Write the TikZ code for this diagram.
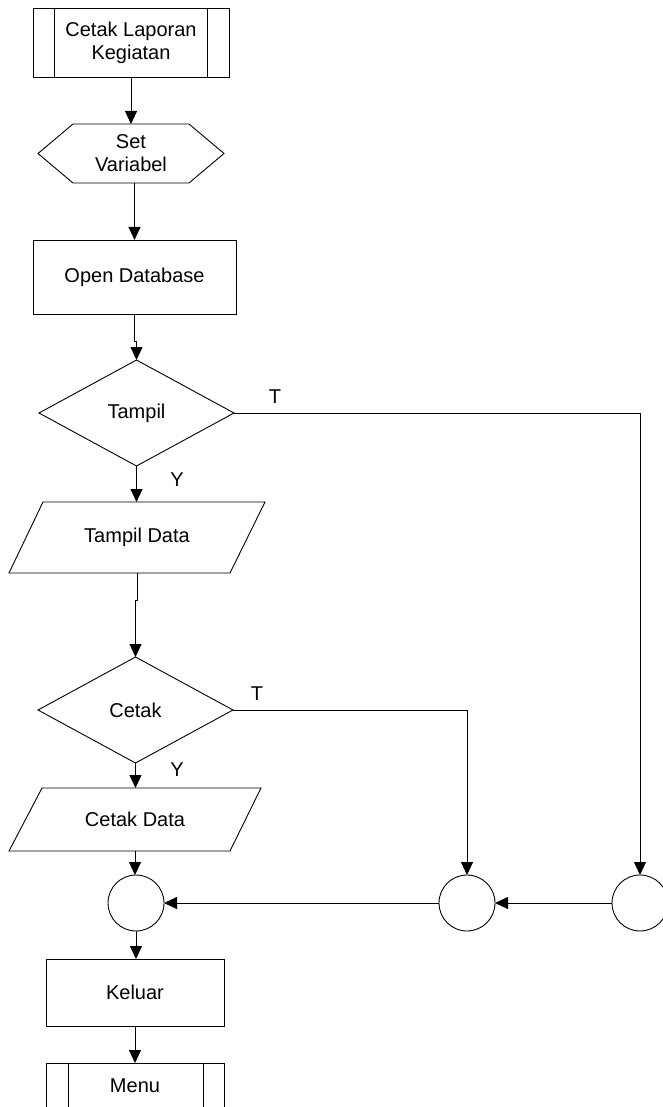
\documentclass[tikz,border=0pt]{standalone}
\usepackage{fontspec}
\setmainfont{Liberation Sans}
\usetikzlibrary{arrows.meta,calc}
\begin{document}
\begin{tikzpicture}[x=1pt,y=-1pt,
  line width=0.9pt,
  every node/.style={font=\fontsize{20}{23}\selectfont, inner sep=0pt, outer sep=0pt},
  shapebox/.style 2 args={rectangle, minimum width=#1, minimum height=#2, align=center},
  arr/.style={-{Triangle[length=13pt,width=12pt]}},
  lbl/.style={anchor=center}
]
\useasboundingbox (0,0) rectangle (663,1107);
\clip (0,0) rectangle (663,1107);

% start: predefined process
\node[shapebox={196}{69}, draw] (start) at (131,42.5) {Cetak Laporan\\Kegiatan};
\draw ([xshift=21pt]start.north west) -- ([xshift=21pt]start.south west);
\draw ([xshift=-22pt]start.north east) -- ([xshift=-22pt]start.south east);

% hexagon
\node[shapebox={186}{59}] (var) at (131,153.5) {Set\\Variabel};
\draw ($(var.north west)+(35,0)$) -- ($(var.north east)+(-35,0)$) -- (var.east)
  -- ($(var.south east)+(-35,0)$) -- ($(var.south west)+(35,0)$) -- (var.west) -- cycle;

% open database
\node[shapebox={203}{74}, draw] (db) at (134.5,277) {Open Database};

% Tampil decision
\node[shapebox={195}{106}] (tampil) at (136.5,413) {Tampil};
\draw (tampil.north) -- (tampil.east) -- (tampil.south) -- (tampil.west) -- cycle;

% Tampil Data
\node[shapebox={256}{71}] (tdata) at (137,537.5) {Tampil Data};
\draw ($(tdata.north west)+(34,0)$) -- (tdata.north east) -- ($(tdata.south east)+(-35,0)$) -- (tdata.south west) -- cycle;

% Cetak decision
\node[shapebox={195}{106}] (cetak) at (135.5,710) {Cetak};
\draw (cetak.north) -- (cetak.east) -- (cetak.south) -- (cetak.west) -- cycle;

% Cetak Data
\node[shapebox={252}{63}] (cdata) at (135,819.5) {Cetak Data};
\draw ($(cdata.north west)+(33,0)$) -- (cdata.north east) -- ($(cdata.south east)+(-31,0)$) -- (cdata.south west) -- cycle;

% connectors circles
\node[circle, draw, minimum size=56pt] (c1) at (136,903) {};
\node[circle, draw, minimum size=56pt] (c2) at (467,903) {};
\node[circle, draw, minimum size=56pt] (c3) at (640,903) {};

% Keluar
\node[shapebox={178}{67}, draw] (keluar) at (135,992.5) {Keluar};

% Menu
\node[shapebox={178}{46}, draw] (menu) at (135,1086) {Menu};
\draw ([xshift=22pt]menu.north west) -- ([xshift=22pt]menu.south west);
\draw ([xshift=-21pt]menu.north east) -- ([xshift=-21pt]menu.south east);

% labels
\node[lbl] (t1) at (275,397) {T};
\node[lbl] (y1) at (177,480) {Y};
\node[lbl] (t2) at (257,694) {T};
\node[lbl] (y2) at (177,770) {Y};

% arrows
\draw[arr] (start.south) -- (start.south |- var.north);
\draw[arr] ($(var.south)+(3,0)$) -- ++(0,25) -| (db.north);
\draw[arr] (db.south) -- ++(0,27) -| (tampil.north);
\draw[arr] (tampil.south) -- (tampil.south |- tdata.north);
\draw[arr] (tdata.south) -- ++(0,27) -| (cetak.north);
\draw[arr] (cetak.south) -- (cetak.south |- cdata.north);
\draw[arr] (cdata.south) -- (cdata.south |- c1.north);
\draw[arr] (c1.south) -- (c1.south |- keluar.north);
\draw[arr] (keluar.south) -- (keluar.south |- menu.north);
\draw[arr] (tampil.east) -| (c3.north);
\draw[arr] (cetak.east) -| (c2.north);
\draw[arr] (c3.west) -- (c2.east);
\draw[arr] (c2.west) -- (c1.east);
\end{tikzpicture}
\end{document}
